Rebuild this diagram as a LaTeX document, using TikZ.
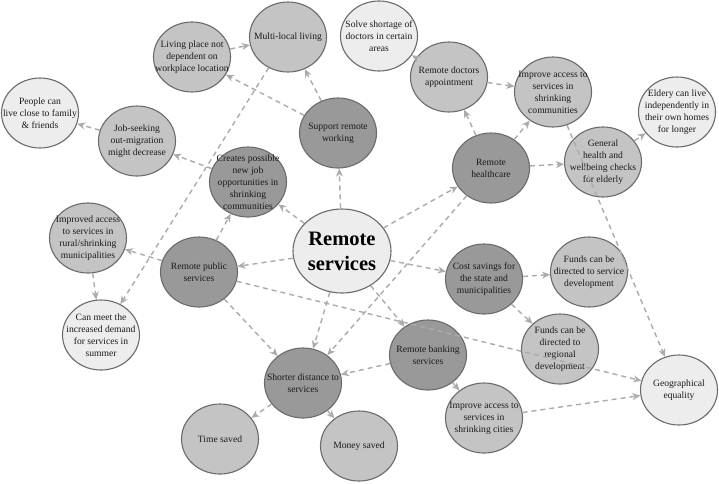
\documentclass[tikz,border=0pt]{standalone}
\usepackage{fontspec}
\setmainfont{Liberation Serif}
\usetikzlibrary{shapes.geometric,arrows.meta}
\definecolor{darkfill}{HTML}{999999}
\definecolor{lightfill}{HTML}{C4C4C4}
\definecolor{palefill}{HTML}{EDEDED}
\definecolor{rimcol}{HTML}{6B6B6B}
\definecolor{linkcol}{HTML}{ABABAB}
\definecolor{inkcol}{HTML}{1A1A1A}
\tikzset{
  bub/.style={ellipse, draw=rimcol, line width=1.1pt, inner sep=0pt, minimum width=77pt, minimum height=70pt},
  dk/.style={bub, fill=darkfill},
  lt/.style={bub, fill=lightfill},
  pl/.style={bub, fill=palefill},
  lbl/.style={align=center, font=\fontsize{9.6}{12}\selectfont, text=inkcol, inner sep=0pt},
  biglbl/.style={align=center, font=\fontsize{20.5}{25}\selectfont\bfseries, text=black, inner sep=0pt},
  link/.style={draw=linkcol, line width=1.4pt, dash pattern=on 5pt off 4pt, -{Stealth[length=8pt,width=7pt,inset=2.5pt]}}
}
\begin{document}
\begin{tikzpicture}[x=1pt,y=-1pt]
\fill[white] (0,0) rectangle (719,483);
\useasboundingbox (0,0) rectangle (719,483);

% bubbles
\node[lt] (ml)  at (288,37)  {};
\node[lt] (lp)  at (192,57)  {};
\node[pl] (ss)  at (379,36)  {};
\node[lt] (rda) at (449,77)  {};
\node[lt] (iac) at (553,92)  {};
\node[pl] (el)  at (677,112) {};
\node[lt] (gh)  at (603,162) {};
\node[dk] (rh)  at (491,168) {};
\node[dk] (srw) at (338,133) {};
\node[pl] (pc)  at (40,113)  {};
\node[lt] (js)  at (137,141) {};
\node[dk] (cj)  at (248,182) {};
\node[pl, minimum width=98pt, minimum height=84pt] (rs) at (342,251) {};
\node[lt] (ia)  at (88,238)  {};
\node[dk] (rp)  at (199,272) {};
\node[pl] (cm)  at (101,335) {};
\node[dk] (cs)  at (484,279) {};
\node[lt] (fs)  at (589,272) {};
\node[lt] (fr)  at (560,349) {};
\node[dk] (rb)  at (428,355) {};
\node[pl] (ge)  at (679,390) {};
\node[lt] (ic)  at (484,418) {};
\node[dk] (sd)  at (303,383) {};
\node[lt] (ts)  at (220,439) {};
\node[lt] (ms)  at (359,446) {};

% labels
\node[lbl] (ml-t)  at (ml)  {Multi-local living};
\node[lbl] (lp-t)  at (lp)  {Living place not\\dependent on\\workplace location};
\node[lbl] (ss-t)  at (ss)  {Solve shortage of\\doctors in certain\\areas};
\node[lbl] (rda-t) at (rda) {Remote doctors\\appointment};
\node[lbl] (iac-t) at (iac) {Improve access to\\services in\\shrinking\\communities};
\node[lbl] (el-t)  at (el)  {Eldery can live\\independently in\\their own homes\\for longer};
\node[lbl] (gh-t)  at (gh)  {General\\health and\\wellbeing checks\\for elderly};
\node[lbl] (rh-t)  at (rh)  {Remote\\healthcare};
\node[lbl] (srw-t) at (srw) {Support remote\\working};
\node[lbl] (pc-t)  at (pc)  {People can\\live close to family\\\& friends};
\node[lbl] (js-t)  at (js)  {Job-seeking\\out-migration\\might decrease};
\node[lbl] (cj-t)  at (cj)  {Creates possible\\new job\\opportunities in\\shrinking\\communities};
\node[biglbl] (rs-t) at (rs) {Remote\\services};
\node[lbl] (ia-t)  at (ia)  {Improved access\\to services in\\rural/shrinking\\municipalities};
\node[lbl] (rp-t)  at (rp)  {Remote public\\services};
\node[lbl] (cm-t)  at (cm)  {Can meet the\\increased demand\\for services in\\summer};
\node[lbl] (cs-t)  at (cs)  {Cost savings for\\the state and\\municipalities};
\node[lbl] (fs-t)  at (fs)  {Funds can be\\directed to service\\development};
\node[lbl] (fr-t)  at (fr)  {Funds can be\\directed to\\regional\\development};
\node[lbl] (rb-t)  at (rb)  {Remote banking\\services};
\node[lbl] (ge-t)  at (ge)  {Geographical\\equality};
\node[lbl] (ic-t)  at (ic)  {Improve access to\\services in\\shrinking cities};
\node[lbl] (sd-t)  at (sd)  {Shorter distance to\\services};
\node[lbl] (ts-t)  at (ts)  {Time saved};
\node[lbl] (ms-t)  at (ms)  {Money saved};

% connectors
\draw[link] (rs) -- (srw);
\draw[link] (rs) -- (cj);
\draw[link] (rs) -- (rp);
\draw[link] (rs) -- (rh);
\draw[link] (rs) -- (cs);
\draw[link] (rs) -- (rb);
\draw[link] (rs) -- (sd);
\draw[link] (rh) -- (sd);
\draw[link] (rp) -- (sd);
\draw[link] (rb) -- (sd);
\draw[link] (rb) -- (ic);
\draw[link] (ic) -- (ge);
\draw[link] (rp) -- (ge);
\draw[link] (sd) -- (ts);
\draw[link] (sd) -- (ms);
\draw[link] (rp) -- (ia);
\draw[link] (rp) -- (cj);
\draw[link] (ia) -- (cm);
\draw[link] (ml) -- (cm);
\draw[link] (lp) -- (ml);
\draw[link] (srw) -- (lp);
\draw[link] (srw) -- (ml);
\draw[link] (cj) -- (js);
\draw[link] (js) -- (pc);
\draw[link] (rh) -- (rda);
\draw[link] (rh) -- (iac);
\draw[link] (rh) -- (gh);
\draw[link] (gh) -- (el);
\draw[link] (rda) -- (ss);
\draw[link] (rda) -- (iac);
\draw[link] (iac) -- (ge);
\draw[link] (cs) -- (fs);
\draw[link] (cs) -- (fr);
\end{tikzpicture}
\end{document}
